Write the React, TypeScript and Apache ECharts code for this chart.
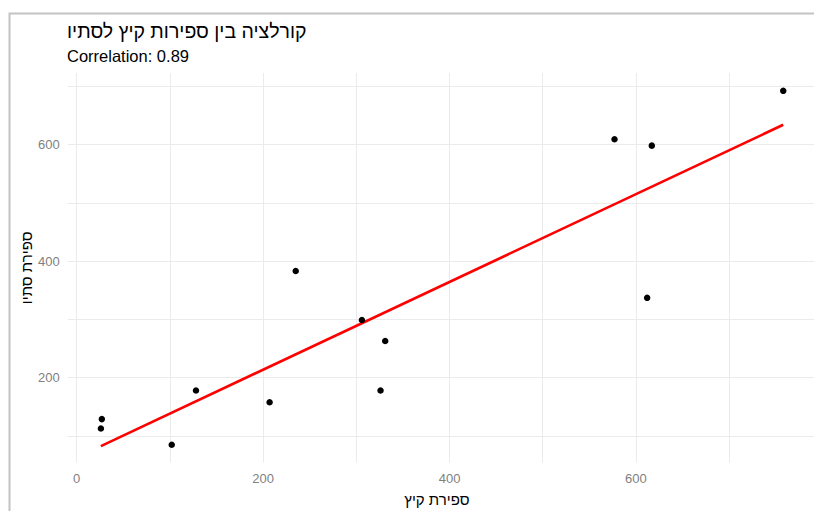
import React, { useEffect, useRef } from "react";
import * as echarts from "echarts";

const summerCounts = [27, 26, 102, 128, 207, 326, 235, 306, 331, 577, 617, 612, 758];
const autumnCounts = [129, 113, 85, 178, 158, 178, 383, 299, 263, 609, 598, 337, 692];
const xLabelValues = [0, 200, 400, 600];
const xGridValues = [0, 100, 200, 300, 400, 500, 600, 700];
const yLabelValues = [200, 400, 600];
const yGridValues = [100, 200, 300, 400, 500, 600, 700];
const titleText = "קורלציה בין ספירות קיץ לסתיו";
const subtitleText = "Correlation: 0.89";
const xTitle = "ספירת קיץ";
const yTitle = "ספירת סתיו";

function fitLine(xs: number[], ys: number[]) {
  const n = xs.length;
  const mx = xs.reduce((a, b) => a + b, 0) / n;
  const my = ys.reduce((a, b) => a + b, 0) / n;
  let sxy = 0, sxx = 0;
  for (let i = 0; i < n; i++) {
    sxy += (xs[i] - mx) * (ys[i] - my);
    sxx += (xs[i] - mx) ** 2;
  }
  const b = sxy / sxx;
  const a = my - b * mx;
  const x0 = Math.min(...xs);
  const x1 = Math.max(...xs);
  return [[x0, a + b * x0], [x1, a + b * x1]];
}

export default function App() {
  const ref = useRef<HTMLDivElement>(null);
  useEffect(() => {
    if (!ref.current) return;
    const chart = echarts.init(ref.current, null, { renderer: "svg" });
    const font = "Liberation Sans, Arial, sans-serif";
    const points = summerCounts.map((x, i) => [x, autumnCounts[i]]);
    chart.setOption({
      animation: false,
      backgroundColor: "#ffffff",
      textStyle: { fontFamily: font },
      title: [
        {
          text: titleText,
          left: 67,
          top: 21,
          padding: 0,
          textStyle: { fontSize: 19.5, fontWeight: "normal", color: "#000000", fontFamily: font },
        },
        {
          text: subtitleText,
          left: 67,
          top: 47,
          padding: 0,
          textStyle: { fontSize: 16.5, fontWeight: "normal", color: "#000000", fontFamily: font },
        },
      ],
      graphic: [
        {
          type: "polyline",
          shape: { points: [[9.5, 511], [9.5, 13.5], [814, 13.5]] },
          style: { stroke: "#c3c3c3", lineWidth: 2, fill: "none" },
          silent: true,
        },
      ],
      grid: { left: 67.8, right: 0, top: 73.1, bottom: 48.5, outerBoundsMode: "none" },
      xAxis: {
        type: "value",
        min: -9.5,
        max: 791,
        name: xTitle,
        nameLocation: "middle",
        nameGap: 29,
        nameMoveOverlap: false,
        nameTextStyle: { fontSize: 15, color: "#000000", fontFamily: font, padding: [0, 8, 0, 0] },
        axisLine: { show: false },
        axisTick: { show: false, customValues: xGridValues },
        axisLabel: { customValues: xLabelValues, color: "#7f7f7f", fontSize: 13, margin: 9, fontFamily: font },
        splitLine: { show: true, lineStyle: { color: "#ebebeb", width: 1 } },
      },
      yAxis: {
        type: "value",
        min: 54.6,
        max: 722.4,
        name: yTitle,
        nameLocation: "middle",
        nameGap: 34,
        nameMoveOverlap: false,
        nameTextStyle: { fontSize: 15, color: "#000000", fontFamily: font },
        axisLine: { show: false },
        axisTick: { show: false, customValues: yGridValues },
        axisLabel: { customValues: yLabelValues, color: "#7f7f7f", fontSize: 13, margin: 8, fontFamily: font },
        splitLine: { show: true, lineStyle: { color: "#ebebeb", width: 1 } },
      },
      series: [
        {
          type: "line",
          data: fitLine(summerCounts, autumnCounts),
          showSymbol: false,
          symbol: "none",
          lineStyle: { color: "#ff0000", width: 2.6 },
          silent: true,
          z: 2,
        },
        {
          type: "scatter",
          data: points,
          symbolSize: 6.5,
          itemStyle: { color: "#000000", opacity: 1 },
          z: 3,
        },
      ],
    });
    return () => chart.dispose();
  }, []);
  return (
    <div
      ref={ref}
      style={{ position: "absolute", left: 0, top: 0, width: 814, height: 511 }}
    />
  );
}
